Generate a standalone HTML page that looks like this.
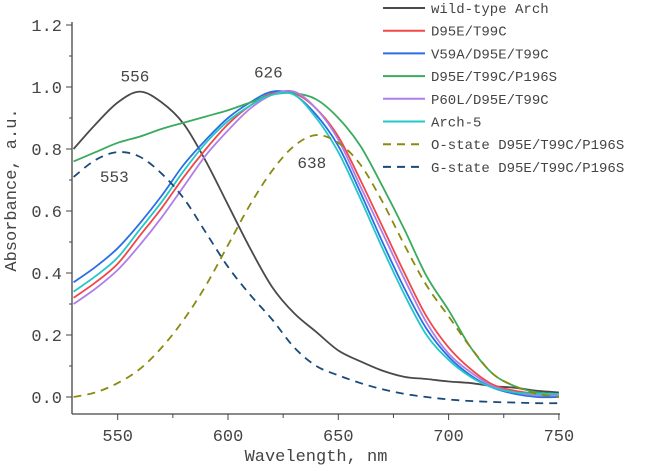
<!DOCTYPE html>
<html><head><meta charset="utf-8"><style>
body{margin:0;background:#fff}
svg text{font-family:"Liberation Mono",monospace;fill:#444}
</style></head><body>
<svg width="658" height="466" id="chart">
<g id="axes"></g><g id="series"></g><g id="legend"></g>
</svg>
<script>
const wl=[530,540,550,560,570,580,590,600,610,620,630,640,650,660,670,680,690,700,710,720,730,740,750];
const wildType=[0.80,0.88,0.95,0.985,0.95,0.88,0.76,0.62,0.48,0.355,0.27,0.21,0.15,0.115,0.085,0.065,0.058,0.05,0.045,0.035,0.03,0.02,0.015];
const d95e=[0.32,0.37,0.43,0.52,0.61,0.71,0.80,0.88,0.94,0.98,0.98,0.93,0.84,0.70,0.55,0.40,0.26,0.16,0.09,0.04,0.02,0.01,0.005];
const v59a=[0.37,0.42,0.48,0.56,0.65,0.75,0.83,0.90,0.95,0.985,0.975,0.91,0.81,0.66,0.50,0.35,0.22,0.13,0.07,0.03,0.01,0.0,0.0];
const p196s=[0.76,0.79,0.82,0.84,0.865,0.885,0.905,0.925,0.95,0.975,0.98,0.96,0.90,0.81,0.68,0.54,0.39,0.28,0.16,0.075,0.035,0.015,0.01];
const p60l=[0.30,0.35,0.41,0.49,0.58,0.68,0.78,0.86,0.93,0.975,0.985,0.93,0.83,0.68,0.53,0.38,0.24,0.14,0.08,0.035,0.015,0.005,0.005];
const arch5=[0.34,0.39,0.45,0.54,0.63,0.73,0.82,0.89,0.94,0.975,0.975,0.90,0.79,0.64,0.48,0.33,0.20,0.12,0.065,0.03,0.015,0.01,0.01];
const oState=[0.0,0.015,0.045,0.09,0.16,0.25,0.36,0.49,0.62,0.73,0.81,0.845,0.82,0.75,0.63,0.49,0.36,0.26,0.16,0.075,0.035,0.01,0.0];
const gState=[0.71,0.765,0.79,0.775,0.72,0.64,0.53,0.42,0.33,0.25,0.16,0.10,0.07,0.045,0.025,0.01,0.0,-0.008,-0.013,-0.016,-0.018,-0.02,-0.02];
const seriesNames=["wild-type Arch","D95E/T99C","V59A/D95E/T99C","D95E/T99C/P196S","P60L/D95E/T99C","Arch-5","O-state D95E/T99C/P196S","G-state D95E/T99C/P196S"];
const yTicks=[0.0,0.2,0.4,0.6,0.8,1.0,1.2];
const xTicks=[550,600,650,700,750];
const peakLabels=[[556,0.985,"556"],[626,0.985,"626"],[553,0.79,"553"],[638,0.845,"638"]];
const NS="http://www.w3.org/2000/svg";
const X=v=>117.7+(v-550)*2.206;
const Y=v=>397-v*310;
function mk(t,a,p){const e=document.createElementNS(NS,t);for(const k in a)e.setAttribute(k,a[k]);p.appendChild(e);return e;}
const ax=document.getElementById('axes');
let e=mk('line',{x1:72,y1:22,x2:72,y2:414,stroke:'#444','stroke-width':1.3},ax);


e=mk('line',{x1:72,y1:414,x2:560,y2:414,stroke:'#444','stroke-width':1.3},ax);


yTicks.forEach((t,i)=>{mk('line',{x1:66,x2:72,y1:Y(t),y2:Y(t),stroke:'#444'},ax);
 if(i<yTicks.length-1)mk('line',{x1:69,x2:72,y1:Y(t+0.1),y2:Y(t+0.1),stroke:'#444'},ax);
 const l=mk('text',{x:62,y:Y(t)+6,'text-anchor':'end','font-size':17},ax);l.textContent=t.toFixed(1);
 
 });
xTicks.forEach((t,i)=>{mk('line',{x1:X(t),x2:X(t),y1:414,y2:420,stroke:'#444'},ax);
 if(i<xTicks.length-1)mk('line',{x1:X(t+25),x2:X(t+25),y1:414,y2:418,stroke:'#444'},ax);
 const l=mk('text',{x:X(t),y:441,'text-anchor':'middle','font-size':17},ax);l.textContent=t;
 
 });
e=mk('text',{x:316,y:461,'text-anchor':'middle','font-size':17},ax);e.textContent="Wavelength, nm";


e=mk('text',{x:0,y:0,'text-anchor':'middle','font-size':17,transform:'translate(16,190) rotate(-90)'},ax);e.textContent="Absorbance, a.u.";


const data=[wildType,d95e,v59a,p196s,p60l,arch5,oState,gState];
const colors=["#4a4a4a","#f04848","#2a6ee6","#3aaa5e","#b07ee8","#22c8c8","#8a8a10","#1a4a7a"];
const dash=[null,null,null,null,null,null,"8,6","8,6"];
const sg=document.getElementById('series');
function smooth(pts){let d=`M${pts[0][0]},${pts[0][1]}`;for(let i=0;i<pts.length-1;i++){const p0=pts[i-1]||pts[i],p1=pts[i],p2=pts[i+1],p3=pts[i+2]||p2;
 d+=` C${p1[0]+(p2[0]-p0[0])/6},${p1[1]+(p2[1]-p0[1])/6} ${p2[0]-(p3[0]-p1[0])/6},${p2[1]-(p3[1]-p1[1])/6} ${p2[0]},${p2[1]}`;}return d;}
data.forEach((s,i)=>{const a={d:smooth(wl.map((w,j)=>[X(w),Y(s[j])])),fill:'none',stroke:colors[i],'stroke-width':1.8};
 if(dash[i])a['stroke-dasharray']=dash[i];
 const p=mk('path',a,sg);
 
 });
const offs=[[4,-10],[-17,-14],[-10,30],[0,33]];
peakLabels.forEach((p,i)=>{const t=mk('text',{x:X(p[0])+offs[i][0],y:Y(p[1])+offs[i][1],'text-anchor':'middle','font-size':16},sg);t.textContent=p[2];
 
 });
const lg=document.getElementById('legend');
seriesNames.forEach((n,i)=>{const y=8+i*22.7;
 const a={x1:383,x2:425,y1:y,y2:y,stroke:colors[i],'stroke-width':2};if(dash[i])a['stroke-dasharray']=dash[i];
 const l=mk('line',a,lg);
 
 
 const t=mk('text',{x:431,y:y+5,'font-size':14},lg);t.textContent=n;
 
 });
</script>
</body></html>
